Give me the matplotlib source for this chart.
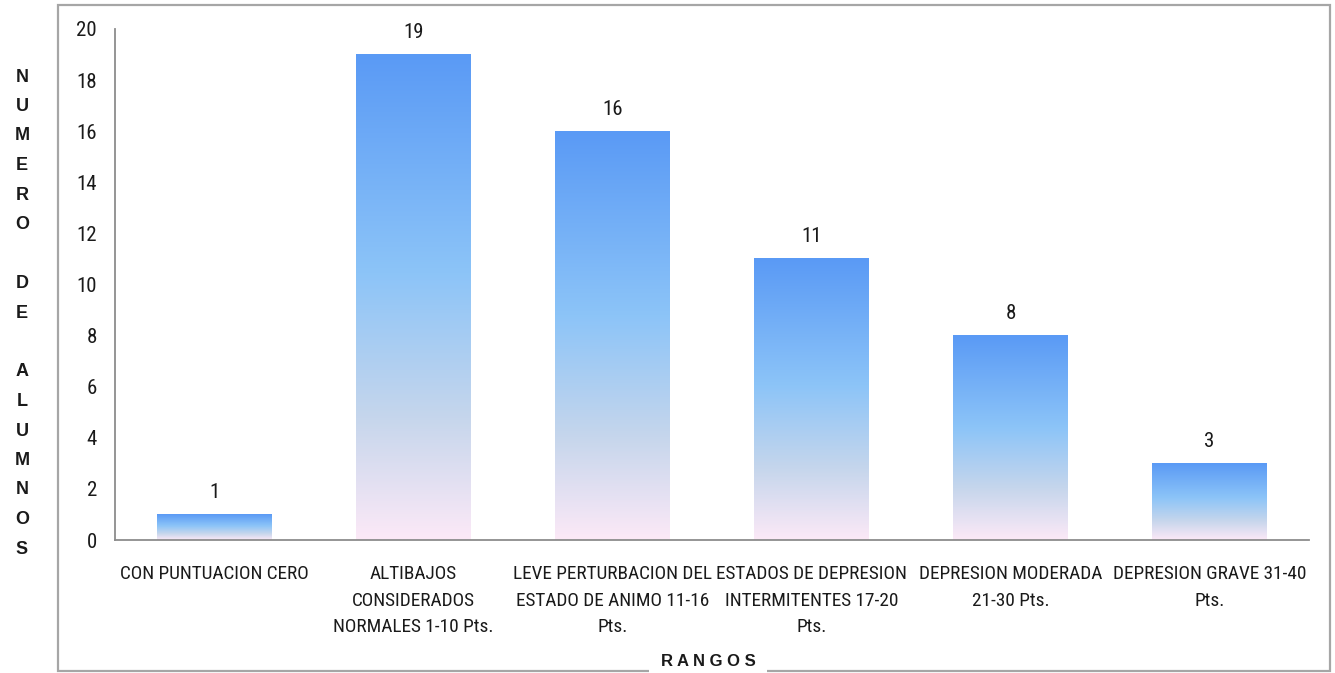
import numpy as np
import matplotlib
matplotlib.use('Agg')
import matplotlib.pyplot as plt
from matplotlib.colors import LinearSegmentedColormap
from matplotlib.patches import Rectangle

# data
categories = ['CON PUNTUACION CERO',
              'ALTIBAJOS\nCONSIDERADOS\nNORMALES 1-10 Pts.',
              'LEVE PERTURBACION DEL\nESTADO DE ANIMO 11-16\nPts.',
              'ESTADOS DE DEPRESION\nINTERMITENTES 17-20\nPts.',
              'DEPRESION MODERADA\n21-30 Pts.',
              'DEPRESION GRAVE 31-40\nPts.']
alumnos = [1, 19, 16, 11, 8, 3]
y_ticks = [0, 2, 4, 6, 8, 10, 12, 14, 16, 18, 20]
y_title = ['N', 'U', 'M', 'E', 'R', 'O', '', 'D', 'E', '', 'A', 'L', 'U', 'M', 'N', 'O', 'S']
x_title = 'R A N G O S'

txt_font = ['Liberation Sans Narrow', 'DejaVu Sans Condensed', 'Roboto Condensed', 'Lato', 'DejaVu Sans']
bold_font = ['Liberation Sans', 'DejaVu Sans']

# gradient top -> bottom
grad_cmap = LinearSegmentedColormap.from_list(
    'bar_grad', [(0.0, '#5A9AF5'), (0.45, '#8CC4F8'), (0.75, '#C6D6EC'), (1.0, '#FCE9F7')])

fig = plt.figure(figsize=(13.35, 6.73), dpi=100)
ax = fig.add_axes([115/1335, 1-540/673, (1309-115)/1335, (540-29)/673])

x = np.arange(len(categories))
bars = ax.bar(x, alumnos, width=0.573, color='none', edgecolor='none')
grad = np.linspace(0, 1, 256).reshape(-1, 1)
for b in bars:
    x0, h, w = b.get_x(), b.get_height(), b.get_width()
    ax.imshow(grad, extent=[x0, x0 + w, 0, h], aspect='auto', cmap=grad_cmap,
              origin='upper', zorder=2, interpolation='bilinear')
    ax.annotate(str(int(h)), (x0 + w/2, h), xytext=(0, 22), textcoords='offset pixels',
                ha='center', va='center', fontsize=15, family=txt_font, color='#1a1a1a')

ax.set_xlim(-0.5, len(categories) - 0.5)
ax.set_ylim(0, 20)
ax.set_yticks(y_ticks)
ax.set_xticks(x)
ax.set_xticklabels(categories, family=txt_font, fontsize=13.9, linespacing=1.62)
for lab in ax.get_yticklabels():
    lab.set_family(txt_font)
    lab.set_fontsize(15)
ax.tick_params(axis='both', length=0, colors='#1a1a1a')
ax.tick_params(axis='y', pad=13)
ax.tick_params(axis='x', pad=18)
for s in ['top', 'right']:
    ax.spines[s].set_visible(False)
for s in ['left', 'bottom']:
    ax.spines[s].set_color('#8c8c8c')
    ax.spines[s].set_linewidth(1.3)

# outer frame
fig.patches.append(Rectangle((58/1335, 1-671/673), (1330-58)/1335, (671-5)/673,
                             transform=fig.transFigure, fill=False,
                             edgecolor='#a6a6a6', linewidth=1.6))

# vertical letters title
for i, ch in enumerate(y_title):
    if ch:
        fig.text(22/1335, 1-(77 + i*29.5)/673, ch, ha='center', va='center',
                 fontsize=13, fontweight='bold', family=bold_font, color='#1a1a1a')

fig.text(708/1335, 1-662/673, x_title, ha='center', va='center', fontsize=12,
         fontweight='bold', family=bold_font, color='#1a1a1a',
         bbox=dict(facecolor='white', edgecolor='none', pad=8))

fig.savefig('out.png', dpi=100)
